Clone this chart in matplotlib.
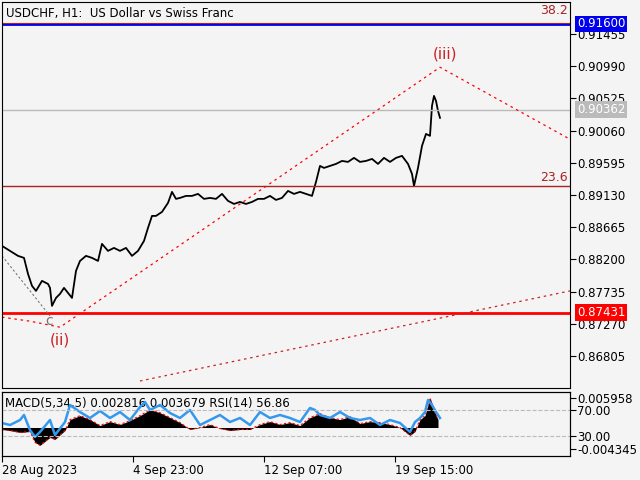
import numpy as np
import matplotlib.pyplot as plt

# price path (bar index ~ pixel column, close price)
bar_x = [2, 10, 18, 24, 28, 32, 36, 42, 48, 50, 52, 56, 60, 64, 68, 72, 76, 80, 86, 92, 98, 102, 108, 114,
         120, 126, 132, 138, 144, 148, 152, 156, 162, 168, 172, 176, 180, 186, 192, 198, 204, 210, 216, 222,
         228, 234, 240, 246, 252, 258, 264, 270, 276, 282, 288, 294, 300, 306, 312, 316, 320, 324, 330, 336,
         342, 348, 354, 360, 366, 372, 378, 384, 390, 396, 402, 408, 412, 414, 418, 422, 426, 430, 432, 434,
         436, 438, 440]
close = [0.88395, 0.88323, 0.88251, 0.88222, 0.87991, 0.87818, 0.87745, 0.87890, 0.87846, 0.87789, 0.87529,
         0.87644, 0.87702, 0.87789, 0.87716, 0.87644, 0.88034, 0.88178, 0.88251, 0.88222, 0.88178, 0.88424,
         0.88323, 0.88366, 0.88323, 0.88366, 0.88251, 0.88323, 0.88467, 0.88655, 0.88828, 0.88828, 0.88886,
         0.89016, 0.89175, 0.89074, 0.89088, 0.89117, 0.89117, 0.89146, 0.89074, 0.89088, 0.89074, 0.89146,
         0.89045, 0.89001, 0.89030, 0.89001, 0.89030, 0.89074, 0.89074, 0.89117, 0.89059, 0.89088, 0.89189,
         0.89146, 0.89175, 0.89146, 0.89117, 0.89319, 0.89550, 0.89521, 0.89550, 0.89579, 0.89622, 0.89608,
         0.89666, 0.89608, 0.89622, 0.89651, 0.89579, 0.89666, 0.89608, 0.89666, 0.89695, 0.89579, 0.89435,
         0.89261, 0.89521, 0.89839, 0.90012, 0.89984, 0.90417, 0.90561, 0.90489, 0.90345, 0.90244]

# MACD histogram and RSI
ind_x = [2, 10, 20, 30, 35, 40, 50, 55, 65, 70, 80, 90, 100, 110, 120, 130, 140, 150, 160, 170, 180, 190,
         200, 210, 220, 230, 240, 250, 260, 270, 280, 290, 300, 310, 320, 330, 340, 350, 360, 370, 380, 390,
         400, 410, 415, 420, 425, 430, 435, 438]
macd = [-0.0004, -0.0006, -0.0010, -0.0008, -0.0030, -0.0036, -0.0020, -0.0024, -0.0006, 0.0016, 0.0024,
        0.0016, 0.0004, 0.0012, 0.0006, 0.0014, 0.0024, 0.0036, 0.0030, 0.0020, 0.0010, -0.0004, 0.0,
        0.0006, -0.0002, -0.0006, -0.0004, -0.0004, 0.0006, 0.0012, 0.0006, 0.0010, 0.0004, 0.0020, 0.0028,
        0.0020, 0.0016, 0.0022, 0.0008, 0.0012, 0.0010, 0.0006, 0.0, -0.0016, -0.0008, 0.0016, 0.0024,
        0.0060, 0.0030, 0.0016]
rsi_x = [2, 10, 20, 24, 30, 35, 40, 50, 55, 65, 70, 80, 90, 100, 110, 120, 130, 140, 145, 150, 160, 170,
         180, 190, 200, 210, 220, 230, 240, 250, 260, 270, 280, 290, 300, 310, 315, 320, 330, 340, 350, 360,
         370, 380, 390, 400, 410, 415, 420, 425, 428, 432, 436, 440]
rsi = [50.0, 46.9, 54.6, 62.3, 39.2, 28.5, 36.2, 54.6, 31.5, 51.5, 77.7, 66.9, 57.7, 68.5, 57.7, 66.9, 54.6,
       74.6, 82.3, 70.0, 77.7, 65.4, 57.7, 70.0, 46.9, 54.6, 62.3, 51.5, 57.7, 46.9, 66.9, 57.7, 62.3, 57.7,
       51.5, 73.1, 70.0, 62.3, 57.7, 66.9, 57.7, 54.6, 57.7, 46.9, 54.6, 50.0, 36.2, 51.5, 57.7, 66.9, 85.4,
       77.7, 66.9, 57.7]

bg = '#f4f4f4'
fig = plt.figure(figsize=(6.4, 4.8), dpi=100, facecolor=bg)
ax = fig.add_axes([2/640, 92/480, 568/640, 386/480], facecolor=bg)
ax.set_xlim(2, 570)
ax.set_ylim(0.86343, 0.91917)
ax.plot(bar_x, close, color='black', lw=1.3)

ax.axhline(0.91600, color='#0000ee', lw=2)
ax.axhline(0.91615, color='#aa2222', lw=0.8)
ax.axhline(0.89260, color='#aa2222', lw=1)
ax.axhline(0.87431, color='red', lw=2)
ax.axhline(0.90362, color='#bbbbbb', lw=1)
ax.plot([2, 30, 60, 440, 570], [0.87366, 0.87308, 0.87221, 0.90975, 0.89935], color='red', ls=(0, (2, 3)), lw=0.9)
ax.plot([140, 570], [0.86444, 0.87745], color='#cc2222', ls=(0, (2, 3)), lw=0.9)
ax.plot([2, 50], [0.88251, 0.87384], color='#777777', ls=(0, (2, 2)), lw=0.8)
ax.text(45, 0.87250, 'c', color='#777777', fontsize=10)
ax.text(60, 0.87040, '(ii)', color='#cc2222', fontsize=11, ha='center', va='center')
ax.text(445, 0.91160, '(iii)', color='#cc2222', fontsize=11, ha='center', va='center')
ax.text(568, 0.91700, '38.2', color='#aa2222', fontsize=9, ha='right', va='bottom')
ax.text(568, 0.89290, '23.6', color='#aa2222', fontsize=9, ha='right', va='bottom')
ax.text(6, 0.91840, 'USDCHF, H1:  US Dollar vs Swiss Franc', fontsize=8.5, va='top')

ticks = [0.91455, 0.90990, 0.90525, 0.90060, 0.89595, 0.89130, 0.88665, 0.88200, 0.87735, 0.87270, 0.86805]
ax.set_yticks(ticks)
ax.set_yticklabels(['%.5f' % t for t in ticks])
ax.yaxis.tick_right()
ax.tick_params(axis='y', labelsize=8.5, length=4, pad=1)
ax.set_xticks([])
for val, col in [(0.91600, '#0000ee'), (0.90362, '#bbbbbb'), (0.87431, 'red')]:
    ax.text(1.012, val, '%.5f' % val, transform=ax.get_yaxis_transform(), color='white', fontsize=8.5,
            va='center', bbox=dict(boxstyle='square,pad=0.15', fc=col, ec='none'))

ax2 = fig.add_axes([2/640, 24/480, 568/640, 64/480], facecolor=bg)
ax2.set_xlim(2, 570)
ax2.set_ylim(-0.00576, 0.00718)
ax2.fill_between(ind_x, 0, macd, color='black', lw=0)
ax2.plot(ind_x, macd, color='red', ls=(0, (2, 2)), lw=0.8)
ax2.set_xticks([2, 133, 264, 395])
ax2.set_xticklabels(['28 Aug 2023', '4 Sep 23:00', '12 Sep 07:00', '19 Sep 15:00'], ha='left')
ax2.tick_params(axis='x', labelsize=8.5, length=4, pad=2)
ax3 = ax2.twinx()
ax3.set_ylim(-0.8, 97.7)
ax3.plot(rsi_x, rsi, color='#3399ee', lw=1.8)
for lvl in [70, 30]:
    ax3.axhline(lvl, color='#bbbbbb', ls='--', lw=0.8)
ax3.set_yticks([70, 30])
ax3.set_yticklabels(['70.00', '30.00'])
ax3.tick_params(axis='y', labelsize=8.5, length=4, pad=1)
ax2.yaxis.tick_right()
ax2.set_yticks([0.005958, -0.004345])
ax2.set_yticklabels(['0.005958', '-0.004345'])
ax2.tick_params(axis='y', labelsize=8.5, length=4, pad=1)
ax2.text(5, 0.0062, 'MACD(5,34,5) 0.002816 0.003679 RSI(14) 56.86', fontsize=8.5, va='top')

plt.savefig('out.png', dpi=100, facecolor=bg)
